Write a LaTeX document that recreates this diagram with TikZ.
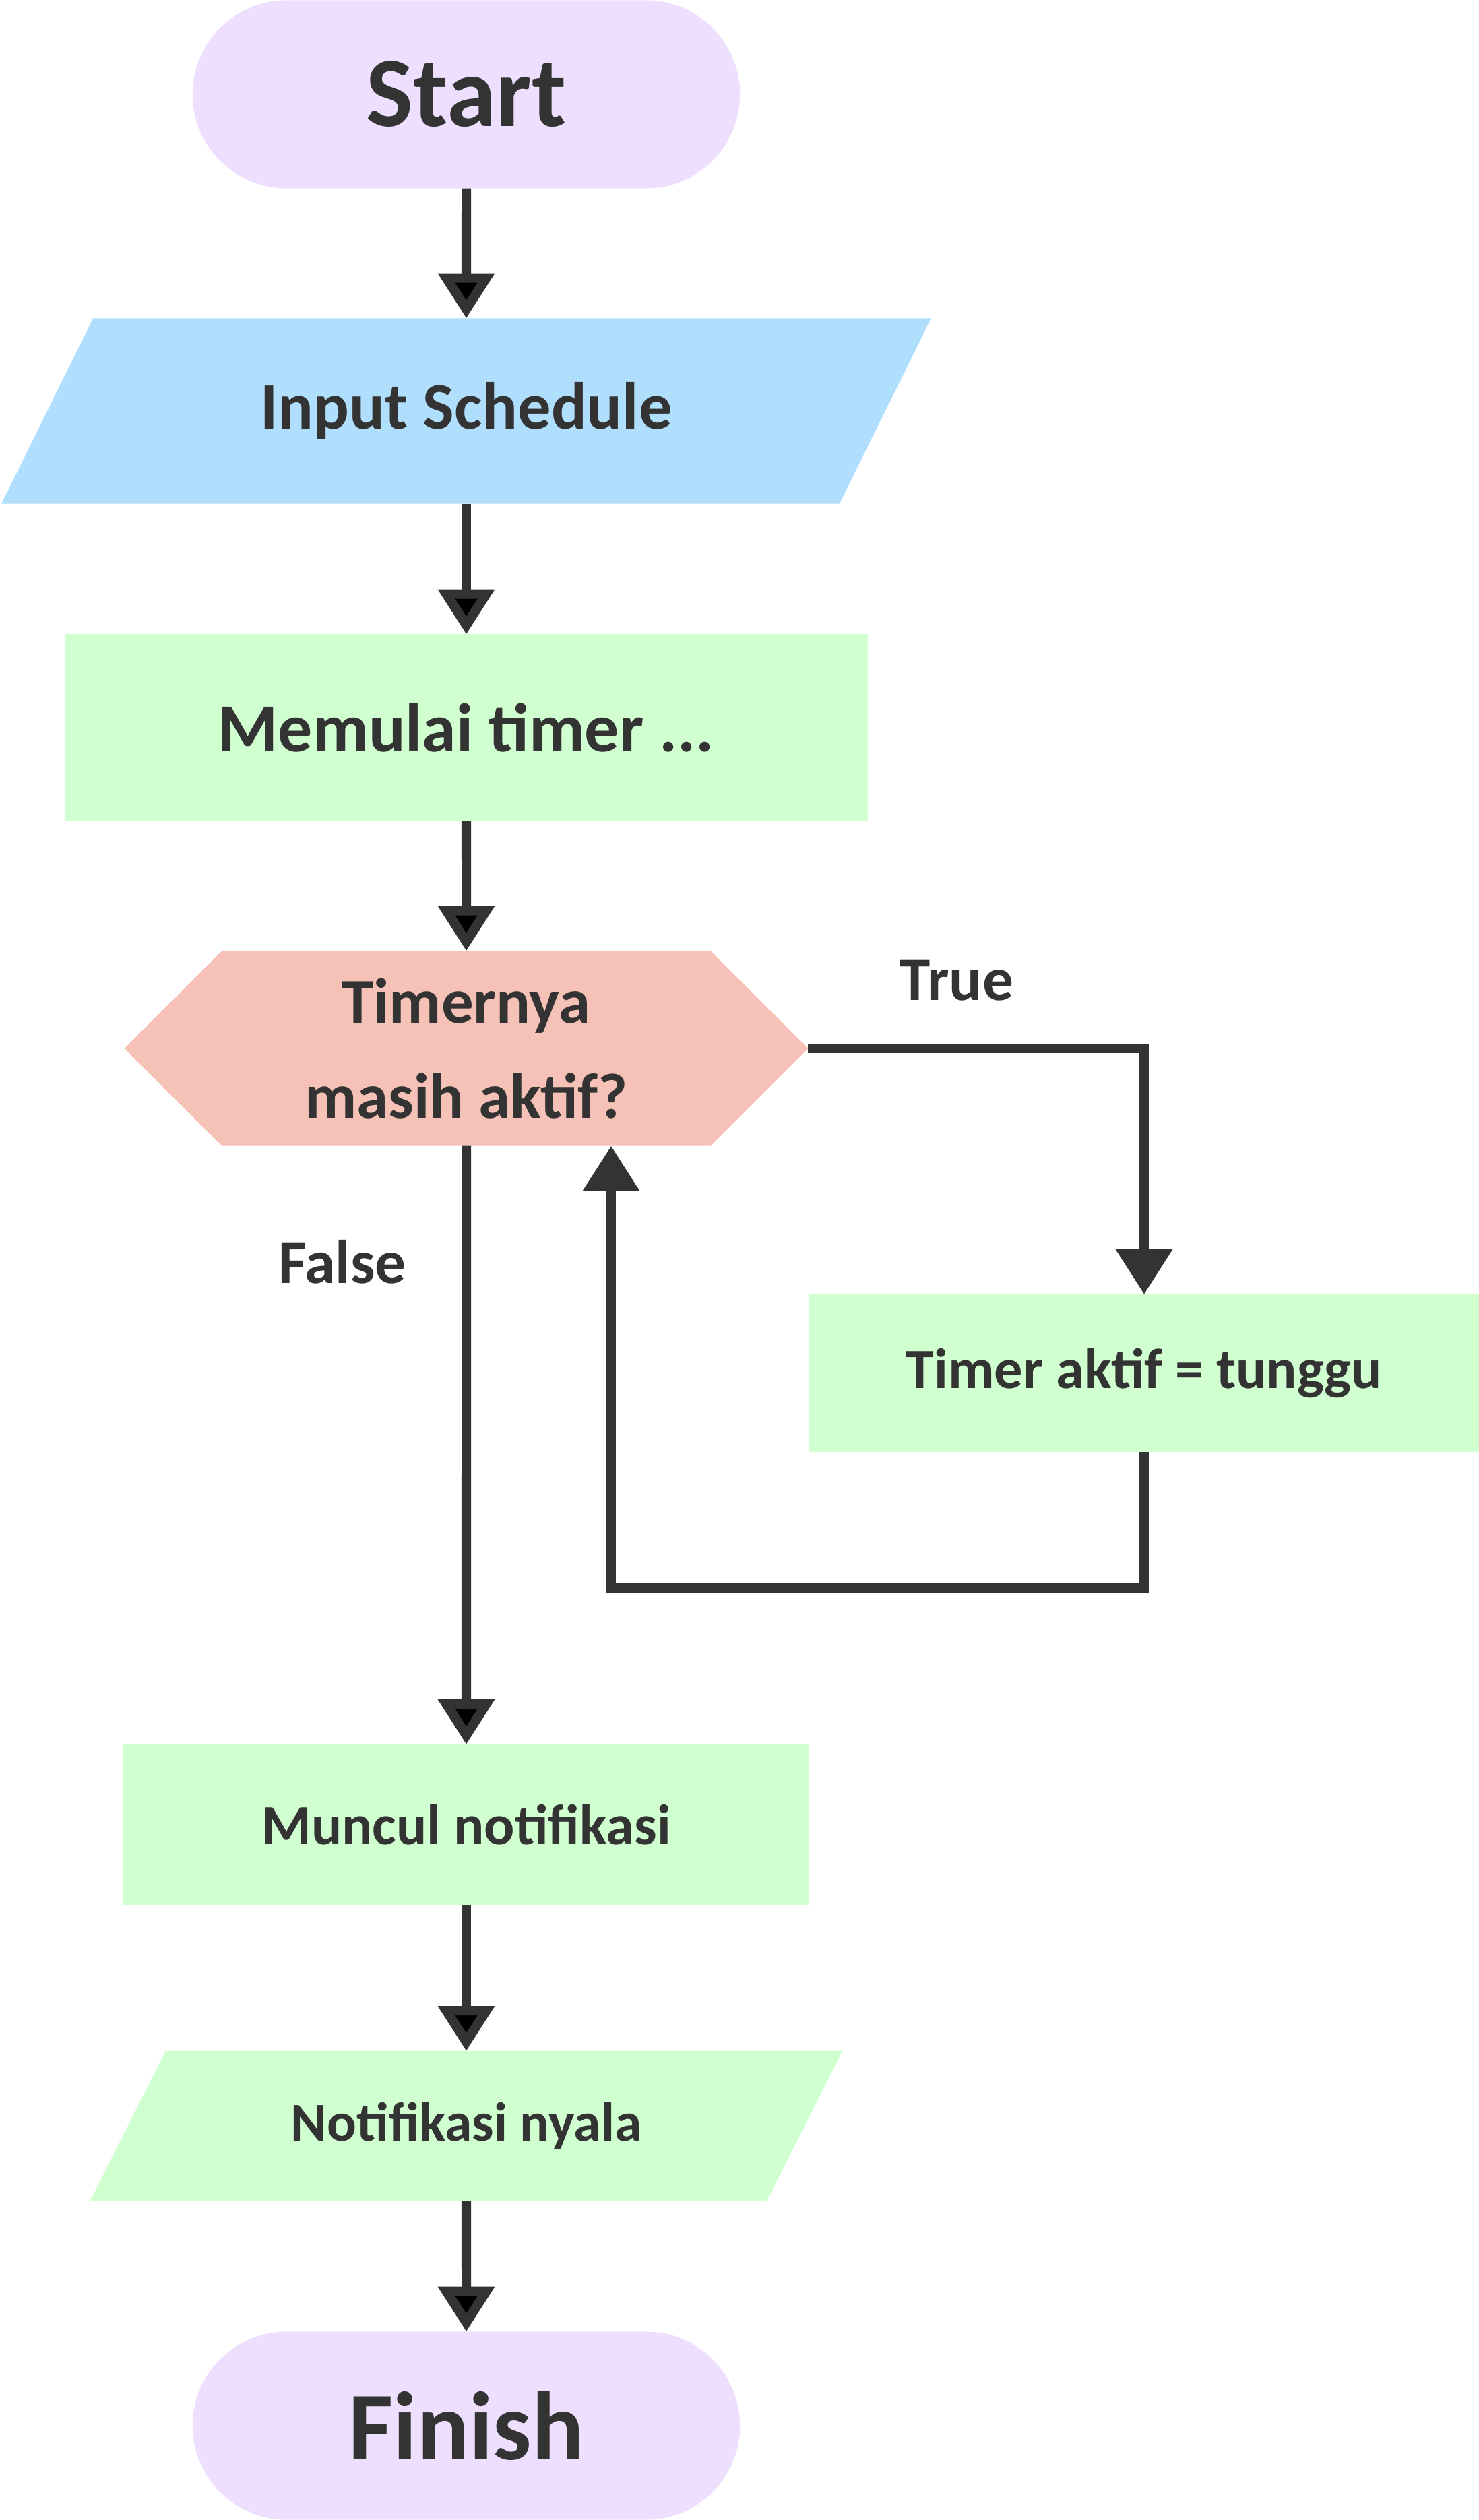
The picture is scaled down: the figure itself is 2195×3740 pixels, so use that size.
\documentclass[tikz,border=0pt]{standalone}
\usepackage{fontspec}
\setmainfont{Carlito}
\usetikzlibrary{arrows.meta,shapes.misc,shapes.symbols,backgrounds}
\definecolor{ink}{HTML}{333333}
\definecolor{lilac}{HTML}{EEDFFE}
\definecolor{sky}{HTML}{AFDFFD}
\definecolor{mint}{HTML}{D0FFD0}
\definecolor{salmon}{HTML}{F6C2B7}
\begin{document}
\begin{tikzpicture}[x=0.01cm,y=-0.01cm,>={Triangle[length=19pt,width=23pt]},
  line width=4pt,
  every node/.style={font=\bfseries,text=ink,inner sep=0pt,outer sep=0pt},
  term node/.style={rounded rectangle,fill=lilac,minimum width=8.12cm,
    minimum height=2.79cm,font=\bfseries\fontsize{42}{46}\selectfont},
  io node/.style={rectangle,font=\bfseries\fontsize{28}{32}\selectfont},
  proc node/.style={rectangle,fill=mint,font=\bfseries\fontsize{24}{28}\selectfont},
  cond node/.style={signal,signal to=east and west,signal pointer angle=90,
    fill=salmon,minimum width=10.14cm,minimum height=2.89cm,align=center,
    font=\bfseries\fontsize{27}{40}\selectfont},
  label node/.style={font=\bfseries\fontsize{26}{30}\selectfont}]

  \useasboundingbox (0,0) rectangle (2195,3740);

  \node[term node] (start) at (692,140) {Start};
  \node[io node,minimum width=11.07cm,minimum height=2.75cm] (input) at (692,610) {Input Schedule};
  \node[proc node,minimum width=11.91cm,minimum height=2.77cm,
    font=\bfseries\fontsize{29}{32}\selectfont] (mulai) at (692,1080) {Memulai timer ...};
  \node[cond node] (cek) at (692,1556) {Timernya\\masih aktif?};
  \node[proc node,minimum width=9.93cm,minimum height=2.34cm] (tunggu) at (1698,2038) {Timer aktif = tunggu};
  \node[proc node,minimum width=10.17cm,minimum height=2.38cm] (muncul) at (692,2708) {Muncul notifikasi};
  \node[io node,minimum width=8.92cm,minimum height=2.22cm,
    font=\bfseries\fontsize{23.2}{27}\selectfont] (nyala) at (692,3155) {Notifikasi nyala};
  \node[term node,font=\bfseries\fontsize{41}{46}\selectfont] (finish) at (692,3600) {Finish};

  \node[label node] (true) at (1420,1455) {True};
  \node[label node] (false) at (508,1873) {False};
  \coordinate (balik) at (907,2357);

  % parallelograms behind the input/output nodes
  \begin{scope}[on background layer]
    \fill[sky] ([xshift=-1.36cm]input.south west) -- (input.north west)
      -- ([xshift=1.36cm]input.north east) -- (input.south east) -- cycle;
    \fill[mint] ([xshift=-1.12cm]nyala.south west) -- (nyala.north west)
      -- ([xshift=1.12cm]nyala.north east) -- (nyala.south east) -- cycle;
  \end{scope}

  \path[draw=ink,->]
    (start) edge (input)
    (input) edge (mulai)
    (mulai) edge (cek)
    (cek) edge (muncul)
    (muncul) edge (nyala)
    (nyala) edge (finish);

  \draw[ink,->] (cek.east) -| (tunggu.north);
  \draw[ink,->] (tunggu.south) |- (balik) -- (balik |- cek.south);
\end{tikzpicture}
\end{document}
